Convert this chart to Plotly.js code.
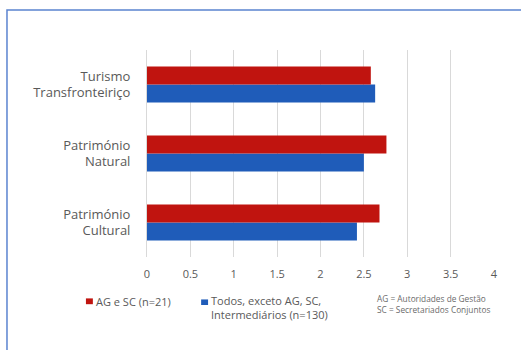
<!DOCTYPE html>
<html>
<head>
<meta charset="utf-8">
<script src="https://cdn.plot.ly/plotly-3.0.1.min.js"></script>
<style>
  html, body { margin: 0; padding: 0; background: #fff; }
  #chart { width: 521px; height: 350px; }
</style>
</head>
<body>
<div id="chart"></div>
<script>
// Categories, bottom to top
const categories = ["Património<br>Cultural", "Património<br>Natural", "Turismo<br>Transfronteiriço"];

// Average scores per group
const agScValues = [2.68, 2.76, 2.58];
const othersValues = [2.42, 2.50, 2.63];

const seriesNames = ["AG e SC (n=21)", "Todos, exceto AG, SC,<br>Intermediários (n=130)"];
const noteLines = ["AG = Autoridades de Gestão", "SC = Secretariados Conjuntos"];

const tickVals = [0, 0.5, 1, 1.5, 2, 2.5, 3, 3.5, 4];
const tickText = ["0", "0.5", "1", "1.5", "2", "2.5", "3", "3.5", "4"];

const RED = "#c0140f";
const BLUE = "#1f5cb9";
const TEXT = "#595959";
const FONT = "Open Sans, Noto Sans, sans-serif";

// Blue first so it sits below red inside each group
const traces = [
  { type: "bar", orientation: "h", y: categories, x: othersValues, name: seriesNames[1],
    marker: { color: BLUE }, showlegend: false, hoverinfo: "x+name" },
  { type: "bar", orientation: "h", y: categories, x: agScValues, name: seriesNames[0],
    marker: { color: RED }, showlegend: false, hoverinfo: "x+name" }
];

// Legend drawn by hand: small squares with labels
const shapes = [
  { type: "rect", xref: "paper", yref: "paper", x0: -0.4035, x1: 1.2, y0: -0.6, y1: 1.193,
    line: { color: "#5b84d0", width: 1.5 }, fillcolor: "rgba(0,0,0,0)", layer: "below" },
  { type: "rect", xref: "paper", yref: "paper", x0: -0.176, x1: -0.156, y0: -0.228, y1: -0.2,
    line: { width: 0 }, fillcolor: RED },
  { type: "rect", xref: "paper", yref: "paper", x0: 0.156, x1: 0.176, y0: -0.232, y1: -0.205,
    line: { width: 0 }, fillcolor: BLUE }
];

const annotations = [
  { xref: "paper", yref: "paper", x: -0.152, y: -0.213, xanchor: "left", yanchor: "middle",
    text: seriesNames[0], showarrow: false, font: { family: FONT, size: 11, color: TEXT } },
  { xref: "paper", yref: "paper", x: 0.18, y: -0.245, xanchor: "left", yanchor: "middle", align: "left",
    text: seriesNames[1], showarrow: false, font: { family: FONT, size: 11, color: TEXT } },
  { xref: "paper", yref: "paper", x: 0.657, y: -0.226, xanchor: "left", yanchor: "middle", align: "left",
    text: noteLines.join("<br>"), showarrow: false, font: { family: FONT, size: 8.3, color: "#6a6a6a" } }
];

const layout = {
  width: 521, height: 350,
  margin: { l: 147, r: 27, t: 50, b: 93 },
  paper_bgcolor: "#ffffff", plot_bgcolor: "#ffffff",
  barmode: "group", bargap: 0.48, bargroupgap: 0,
  font: { family: FONT, color: TEXT },
  xaxis: {
    range: [0, 4], tickvals: tickVals, ticktext: tickText,
    showgrid: true, gridcolor: "#d9d9d9", gridwidth: 1, zeroline: false,
    showline: false, ticks: "", tickfont: { family: FONT, size: 11, color: TEXT },
    ticklabelstandoff: 9, fixedrange: true
  },
  yaxis: {
    type: "category", categoryorder: "array", categoryarray: categories,
    showgrid: false, zeroline: false, showline: true, linecolor: "#d9d9d9", linewidth: 1,
    ticks: "", tickfont: { family: FONT, size: 13, color: TEXT }, ticklabelstandoff: 13,
    fixedrange: true
  },
  shapes: shapes,
  annotations: annotations
};

Plotly.newPlot("chart", traces, layout, { displayModeBar: false, staticPlot: true });
</script>
</body>
</html>
